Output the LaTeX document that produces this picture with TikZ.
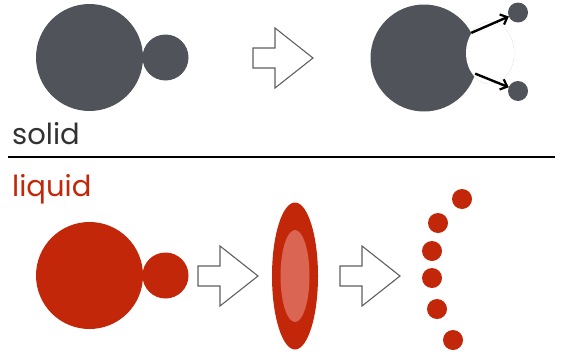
\documentclass[tikz,border=0pt]{standalone}
\usepackage{fontspec}
\setmainfont{Poppins}
\usetikzlibrary{arrows.meta, shapes.geometric}
\definecolor{slate}{RGB}{80,84,90}
\definecolor{rust}{RGB}{195,39,10}
\definecolor{rustlight}{RGB}{217,101,82}
\definecolor{outline}{RGB}{95,95,100}
\definecolor{inkgray}{RGB}{50,50,52}
\tikzset{
    line cap=round,
    line join=round,
    ball/.style={
        circle,
        inner sep=0pt,
        outer sep=0pt,
        minimum size=#1
    },
    solidball/.style={ball=#1, fill=slate},
    liquidball/.style={ball=#1, fill=rust},
    blob/.style={
        ellipse,
        inner sep=0pt,
        outer sep=0pt
    },
    shiftarrow/.style={
        draw=outline,
        fill=white,
        line width=1.1pt,
        line join=miter
    },
    kick/.style={
        -{Straight Barb[length=6pt, width=11pt, line width=2.2pt]},
        draw=black,
        line width=2.4pt
    },
    phase/.style={
        font=\fontsize{29}{30}\selectfont,
        inner sep=0pt,
        anchor=base west
    }
}
% block arrow: left end x, centre y
\newcommand\shiftblock[2]{%
    \draw[shiftarrow] (#1,#2) ++(0,-10) -- ++(22,0) -- ++(0,-20)
        -- ++(38,30) -- ++(-38,30) -- ++(0,-20) -- ++(-22,0) -- cycle;
}

\begin{document}
\begin{tikzpicture}[x=1pt, y=-1pt]
\useasboundingbox (0,0) rectangle (561,356);

% solid
\node[solidball=107pt] (solidcore) at (89.5,57.5) {};
\node[solidball=46pt] (soliddrop) at (165.5,57.5) {};
\shiftblock{253}{58}

\node[blob, draw=black!22, line width=0.4pt, minimum width=48pt, minimum height=62pt] (gapline) at (490,53) {};
\node[solidball=107pt] (brokencore) at (424,58) {};
\node[blob, fill=white, minimum width=48pt, minimum height=62pt] (gap) at (490,53) {};
\node[solidball=20pt] (flyup) at (518,12.5) {};
\node[solidball=20pt] (flydown) at (518,91) {};
\draw[kick] (brokencore.28) -- (flyup);
\draw[kick] (brokencore.-17) -- (flydown);

\node[phase, text=inkgray] (solidlabel) at (12,144) {solid};
\coordinate (ruleleft) at (8,157);
\coordinate (ruleright) at (555,157);
\draw[black, line width=1.1pt] (ruleleft) -- (ruleright);
\node[phase, text=rust] (liquidlabel) at (12,196) {liquid};

% liquid
\node[liquidball=107pt] (liquidcore) at (89.5,275.5) {};
\node[liquidball=46pt] (liquiddrop) at (165.5,275.5) {};
\shiftblock{198}{276}
\node[blob, fill=rust, minimum width=46pt, minimum height=147pt] (sheet) at (295,276) {};
\node[blob, fill=rustlight, minimum width=29pt, minimum height=92pt] (sheetcore) at (295,276) {};
\shiftblock{340}{276}
\foreach \n/\x/\y in {1/462/199, 2/438/223, 3/432/251, 4/432/278, 5/437/309, 6/453/340} {
    \node[liquidball=20pt] (spray\n) at (\x,\y) {};
}

\end{tikzpicture}
\end{document}
